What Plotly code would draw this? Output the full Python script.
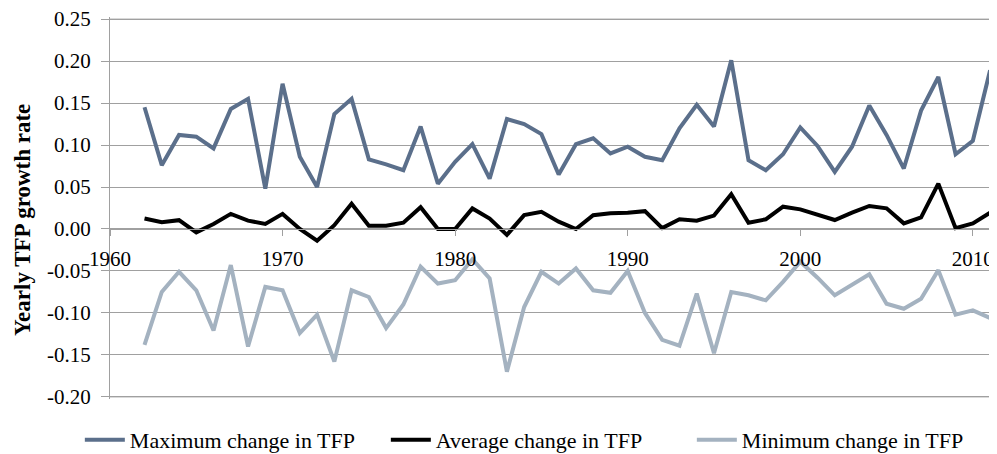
import plotly.graph_objects as go

years = list(range(1962, 2012))

max_change = [0.145, 0.076, 0.112, 0.110, 0.096, 0.143, 0.155, 0.048, 0.173, 0.086,
              0.050, 0.137, 0.155, 0.083, 0.077, 0.070, 0.122, 0.054, 0.080, 0.101,
              0.060, 0.131, 0.125, 0.113, 0.065, 0.101, 0.108, 0.090, 0.098, 0.086,
              0.082, 0.120, 0.148, 0.122, 0.201, 0.082, 0.070, 0.089, 0.121, 0.099,
              0.068, 0.098, 0.147, 0.112, 0.072, 0.141, 0.181, 0.089, 0.105, 0.189]

avg_change = [0.0125, 0.008, 0.0105, -0.004, 0.006, 0.018, 0.010, 0.006, 0.018, 0.000,
              -0.014, 0.0045, 0.030, 0.004, 0.004, 0.0075, 0.026, 0.000, 0.000, 0.0245,
              0.0125, -0.007, 0.0165, 0.0205, 0.0087, 0.000, 0.0165, 0.0187, 0.0194, 0.0212,
              0.001, 0.0115, 0.0099, 0.016, 0.0415, 0.0075, 0.0115, 0.0266, 0.0234, 0.0167,
              0.0107, 0.0194, 0.0274, 0.0246, 0.0067, 0.0139, 0.054, 0.001, 0.0067, 0.0194]

min_change = [-0.138, -0.075, -0.051, -0.073, -0.121, -0.043, -0.140, -0.069, -0.073, -0.124,
              -0.102, -0.158, -0.073, -0.081, -0.118, -0.090, -0.045, -0.065, -0.061, -0.036,
              -0.059, -0.170, -0.093, -0.051, -0.065, -0.047, -0.073, -0.076, -0.050, -0.100,
              -0.132, -0.139, -0.077, -0.148, -0.075, -0.079, -0.085, -0.063, -0.039, -0.058,
              -0.079, -0.067, -0.054, -0.089, -0.095, -0.083, -0.049, -0.102, -0.097, -0.106]

series_names = ["Maximum change in TFP", "Average change in TFP", "Minimum change in TFP"]
series_colors = ["#5b6f8b", "#000000", "#a4b2c0"]

y_tick_values = [-0.20, -0.15, -0.10, -0.05, 0.00, 0.05, 0.10, 0.15, 0.20, 0.25]
y_tick_labels = [f"{v:.2f}" for v in y_tick_values]
x_tick_values = [1960, 1970, 1980, 1990, 2000, 2010]
x_tick_labels = [str(v) for v in x_tick_values]
y_title = "Yearly TFP growth rate"

# a small pad so the boundary gridlines (-0.20 and 0.25) are still drawn
y_lo, y_hi = -0.2025, 0.2525
x_min, x_max = 1960, 2011.4

fig = go.Figure()
for name, vals, col in zip(series_names, [max_change, avg_change, min_change], series_colors):
    fig.add_trace(go.Scatter(x=years, y=vals, mode="lines", name=name,
                             line=dict(color=col, width=4)))

font_family = "Liberation Serif"
grid_col = "#a0a0a0"

# boundary gridlines at the first and last y ticks
for yv in (y_tick_values[0], y_tick_values[-1]):
    fig.add_shape(type="line", xref="paper", x0=0, x1=1, yref="y", y0=yv, y1=yv,
                  line=dict(color=grid_col, width=1), layer="below")

# page body has an 8px default margin, so the figure is 8px smaller than the window
fig.update_layout(
    width=989, height=446,
    margin=dict(l=102, r=0, t=9, b=55, autoexpand=False),
    plot_bgcolor="white", paper_bgcolor="white",
    font=dict(family=font_family, size=21, color="black"),
    showlegend=True,
    legend=dict(orientation="h", x=-0.034, xanchor="left", y=-0.1073, yanchor="middle",
                font=dict(family=font_family, size=22, color="black"),
                entrywidth=251, itemwidth=40,
                bgcolor="rgba(0,0,0,0)"),
    xaxis=dict(range=[x_min, x_max], tickvals=x_tick_values, ticktext=x_tick_labels,
               tickfont=dict(family=font_family, size=21, color="black"),
               showgrid=False, zeroline=False, showline=True, linecolor=grid_col, linewidth=1,
               ticks="outside", ticklen=6, tickcolor=grid_col, automargin=False,
               ticklabelstandoff=5,
               anchor="free", position=(0 - y_lo) / (y_hi - y_lo)),
    yaxis=dict(range=[y_lo, y_hi], tickvals=y_tick_values, ticktext=y_tick_labels,
               tickfont=dict(family=font_family, size=21, color="black"),
               showgrid=True, gridcolor=grid_col, gridwidth=1, zeroline=False,
               showline=True, linecolor=grid_col, linewidth=1, automargin=False,
               ticklabeloverflow="allow",
               ticks="outside", ticklen=8, tickcolor=grid_col, ticklabelstandoff=6),
    annotations=[dict(text=f"<b>{y_title}</b>", textangle=-90, xref="paper", yref="paper",
                      x=-0.0981, y=0.4686, xanchor="center", yanchor="middle", showarrow=False,
                      font=dict(family=font_family, size=23, color="black"))],
)

fig.write_html("out.html")
